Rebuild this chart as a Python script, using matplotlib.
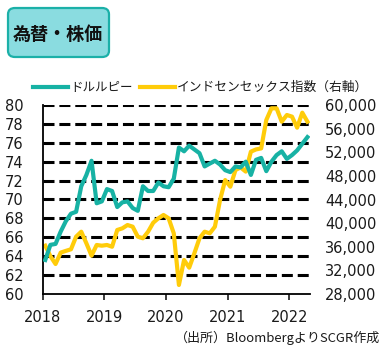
import matplotlib
matplotlib.use("Agg")
import matplotlib.pyplot as plt
from matplotlib.patches import FancyBboxPatch
from matplotlib.lines import Line2D
import matplotlib.transforms as mtransforms
import numpy as np

# monthly data, Jan 2018 - Apr 2022
usdinr = [63.6, 65.2, 65.3, 66.6, 67.7, 68.5, 68.7, 71.4, 72.6, 74.1, 69.6, 69.8,
          71.1, 70.9, 69.2, 69.7, 69.8, 69.1, 68.8, 71.4, 70.9, 70.9, 71.8, 71.4,
          71.3, 72.2, 75.5, 75.1, 75.7, 75.3, 74.9, 73.5, 73.8, 74.1, 73.7, 73.1,
          72.9, 73.5, 73.4, 74.0, 72.6, 74.2, 74.4, 73.0, 74.0, 74.7, 75.1, 74.3,
          74.7, 75.2, 75.9, 76.6]
sensex = [36180, 34400, 33080, 35010, 35300, 35570, 37710, 38550, 36580, 34490, 36300, 36180,
          36300, 36000, 38840, 39120, 39680, 39400, 37710, 37430, 38550, 40070, 40820, 41380,
          40820, 38270, 29530, 33760, 32460, 34890, 37430, 38550, 38270, 39400, 43900, 47290,
          46170, 48990, 49430, 48720, 52100, 52480, 52650, 57460, 59440, 59440, 57180, 58310,
          58030, 56160, 58700, 57180]
year_labels = ["2018", "2019", "2020", "2021", "2022"]
left_ticks = [60, 62, 64, 66, 68, 70, 72, 74, 76, 78, 80]
right_ticks = [28000, 32000, 36000, 40000, 44000, 48000, 52000, 56000, 60000]

TEAL = "#17B2A4"
YELLOW = "#FFCC0A"
JP = ["Noto Sans CJK JP", "DejaVu Sans"]

W, H = 386, 351
fig = plt.figure(figsize=(W / 100, H / 100), dpi=100)
fig.patch.set_facecolor("white")

# title box
box = FancyBboxPatch((8 / W, 1 - 57 / H), 101 / W, 49 / H,
                     boxstyle="round,pad=0,rounding_size=0.018",
                     transform=fig.transFigure, facecolor="#8ADCE0",
                     edgecolor="#1BB0A8", linewidth=1.6)
fig.patches.append(box)
fig.text(58 / W, 1 - 34 / H, "為替・株価", family=JP, fontsize=13,
         fontweight="bold", ha="center", va="center", color="#111111")

# legend
fig.lines.append(Line2D([33 / W, 68 / W], [1 - 87 / H, 1 - 87 / H],
                        transform=fig.transFigure, color=TEAL, lw=3))
fig.text(70 / W, 1 - 87 / H, "ドルルピー", family=JP, fontsize=9,
         ha="left", va="center", color="#1a1a1a")
fig.lines.append(Line2D([140 / W, 175 / W], [1 - 87 / H, 1 - 87 / H],
                        transform=fig.transFigure, color=YELLOW, lw=3))
fig.text(177 / W, 1 - 87 / H, "インドセンセックス指数（右軸）", family=JP, fontsize=9.2,
         ha="left", va="center", color="#1a1a1a")

# axes
ax = fig.add_axes([42.7 / W, 1 - 294 / H, 267.3 / W, 189 / H])
ax2 = ax.twinx()
ax.set_zorder(2)
ax2.set_zorder(1)
ax.patch.set_visible(False)

x = np.arange(len(usdinr)) + 0.5

# dashed gridlines (left axis values) drawn under the lines
trans = mtransforms.blended_transform_factory(ax2.transAxes, ax.transData)
for v in left_ticks[1:]:
    ax2.plot([0, 1], [v, v], transform=trans, color="black", lw=2.2,
             linestyle=(0, (3.6, 1.6)), solid_capstyle="butt",
             dash_capstyle="butt", zorder=1)

ax2.plot(x, sensex, color=YELLOW, lw=3, zorder=3, solid_joinstyle="round")
ax.plot(x, usdinr, color=TEAL, lw=3, zorder=3, solid_joinstyle="round")

ax.set_xlim(0, len(usdinr))
ax.set_ylim(60, 80)
ax2.set_ylim(28000, 60000)

ax.set_xticks([0, 12, 24, 36, 48])
ax.set_xticklabels(year_labels)
ax.set_yticks(left_ticks)
ax.set_yticklabels([str(v) for v in left_ticks])
ax2.set_yticks(right_ticks)
ax2.set_yticklabels([f"{v:,}" for v in right_ticks])

ax.tick_params(axis="x", length=4.3, width=1.2, pad=7, labelsize=10.5,
               colors="#1a1a1a")
ax.tick_params(axis="y", length=0, pad=14, labelsize=10.5, colors="#1a1a1a")
ax2.tick_params(axis="y", length=0, pad=11, labelsize=10.5, colors="#1a1a1a")

for a in (ax, ax2):
    a.spines["top"].set_visible(False)
    a.spines["right"].set_visible(False)
ax2.spines["left"].set_visible(False)
ax2.spines["bottom"].set_visible(False)
ax.spines["left"].set_linewidth(1.3)
ax.spines["bottom"].set_linewidth(1.3)

fig.text(380 / W, 1 - 338 / H, "（出所）BloombergよりSCGR作成", family=JP,
         fontsize=9.4, ha="right", va="center", color="#1a1a1a")

fig.savefig("out.png", dpi=100)
